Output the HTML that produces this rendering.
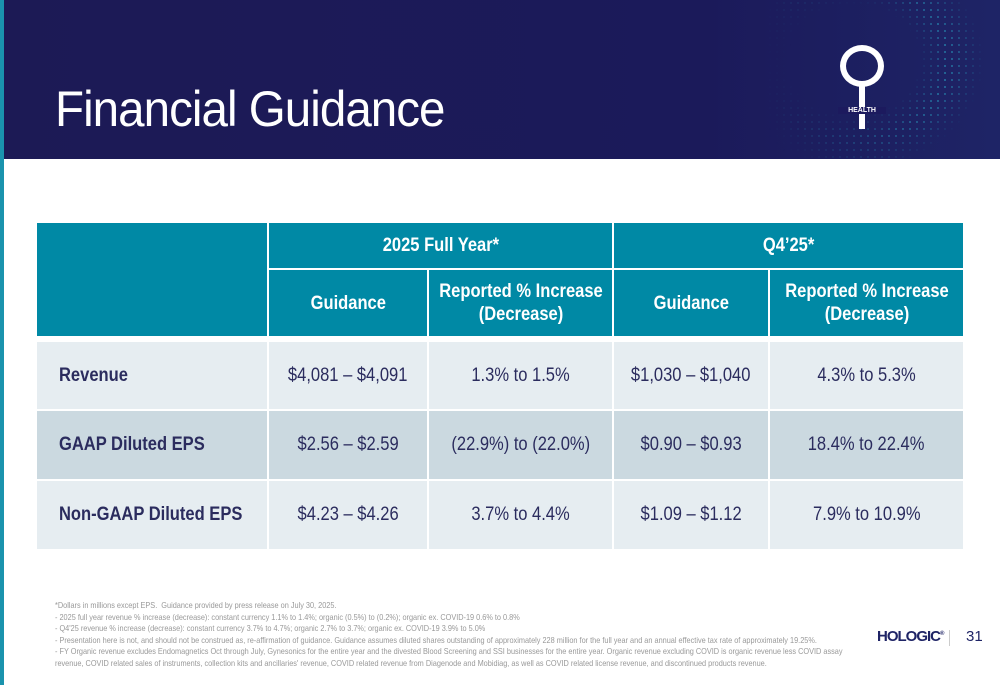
<!DOCTYPE html>
<html><head><meta charset="utf-8"><style>
*{margin:0;padding:0;box-sizing:border-box}
body{width:1000px;height:685px;position:relative;overflow:hidden;background:#fff;font-family:"Liberation Sans",Arial,sans-serif}
.c{position:absolute;display:flex;align-items:center;justify-content:center;text-align:center;white-space:nowrap}
.c span{display:inline-block;transform:scaleX(0.87)}
.h{background:#0089a5;color:#fff;font-weight:bold;font-size:19px;line-height:23px}
.d{color:#2b2c5e;font-size:19px}
.l{justify-content:flex-start;padding-left:22px;font-weight:bold}
.l span{transform-origin:left center}
.r1{background:#e6edf1}.r2{background:#cbd9e0}
.fn{position:absolute;left:55px;top:600px;font-size:8.4px;line-height:11.6px;color:#999;white-space:nowrap;transform:scaleX(0.875);transform-origin:left top}
</style></head><body>
<div style="position:absolute;left:0;top:0;width:4px;height:685px;background:#1a93ad"></div>
<div style="position:absolute;left:4px;top:0;width:996px;height:159px;background:linear-gradient(90deg,#1c1a55,#1b1a5a 70%,#1e2466);overflow:hidden">
<svg width="996" height="159" style="position:absolute;left:0;top:0">
<defs><pattern id="p" width="7" height="7" patternUnits="userSpaceOnUse"><circle cx="3" cy="3" r="1" fill="#2aa8c8"/></pattern>
<radialGradient id="g" cx="0.5" cy="0.5" r="0.5"><stop offset="0.5" stop-color="#000"/><stop offset="0.72" stop-color="#fff"/><stop offset="0.9" stop-color="#555"/><stop offset="1" stop-color="#000"/></radialGradient>
<linearGradient id="lg" x1="0" x2="1"><stop offset="0" stop-color="#000"/><stop offset="0.5" stop-color="#888"/><stop offset="1" stop-color="#fff"/></linearGradient>
<mask id="m"><ellipse cx="850" cy="60" rx="130" ry="110" fill="url(#g)"/></mask>
<mask id="m2"><rect x="760" y="0" width="236" height="159" fill="url(#lg)"/></mask></defs>
<g mask="url(#m2)"><rect x="700" y="0" width="296" height="159" fill="url(#p)" mask="url(#m)" opacity="0.85"/></g>
</svg>
<div style="position:absolute;left:51px;top:80px;color:#fff;font-size:50px;letter-spacing:-1px;white-space:nowrap;transform:scaleX(0.95);transform-origin:left top">Financial Guidance</div>
<div style="position:absolute;left:834px;top:45px;width:46px;height:84px">
<div style="position:absolute;left:2px;top:0;width:44px;height:42px;border:6px solid #fff;border-radius:50%"></div>
<div style="position:absolute;left:21px;top:40px;width:6px;height:44px;background:#fff"></div>
<div style="position:absolute;left:0;top:62px;width:48px;background:#1c1a5e;color:#fff;font-size:7px;font-weight:bold;text-align:center">HEALTH</div>
</div>
</div>

<div class="c h" style="left:37px;top:223px;width:230px;height:113px"></div>
<div class="c h" style="left:269px;top:223px;width:343px;height:45px"><span>2025 Full Year*</span></div>
<div class="c h" style="left:614px;top:223px;width:349px;height:45px"><span>Q4’25*</span></div>
<div class="c h" style="left:269px;top:270px;width:158px;height:66px"><span>Guidance</span></div>
<div class="c h" style="left:429px;top:270px;width:183px;height:66px"><span>Reported % Increase<br>(Decrease)</span></div>
<div class="c h" style="left:614px;top:270px;width:154px;height:66px"><span>Guidance</span></div>
<div class="c h" style="left:770px;top:270px;width:193px;height:66px"><span>Reported % Increase<br>(Decrease)</span></div>

<div class="c d l r1" style="left:37px;top:342px;width:230px;height:67px"><span>Revenue</span></div>
<div class="c d r1" style="left:269px;top:342px;width:158px;height:67px"><span>$4,081 – $4,091</span></div>
<div class="c d r1" style="left:429px;top:342px;width:183px;height:67px"><span>1.3% to 1.5%</span></div>
<div class="c d r1" style="left:614px;top:342px;width:154px;height:67px"><span>$1,030 – $1,040</span></div>
<div class="c d r1" style="left:770px;top:342px;width:193px;height:67px"><span>4.3% to 5.3%</span></div>

<div class="c d l r2" style="left:37px;top:411px;width:230px;height:68px"><span>GAAP Diluted EPS</span></div>
<div class="c d r2" style="left:269px;top:411px;width:158px;height:68px"><span>$2.56 – $2.59</span></div>
<div class="c d r2" style="left:429px;top:411px;width:183px;height:68px"><span>(22.9%) to (22.0%)</span></div>
<div class="c d r2" style="left:614px;top:411px;width:154px;height:68px"><span>$0.90 – $0.93</span></div>
<div class="c d r2" style="left:770px;top:411px;width:193px;height:68px"><span>18.4% to 22.4%</span></div>

<div class="c d l r1" style="left:37px;top:481px;width:230px;height:68px"><span>Non-GAAP Diluted EPS</span></div>
<div class="c d r1" style="left:269px;top:481px;width:158px;height:68px"><span>$4.23 – $4.26</span></div>
<div class="c d r1" style="left:429px;top:481px;width:183px;height:68px"><span>3.7% to 4.4%</span></div>
<div class="c d r1" style="left:614px;top:481px;width:154px;height:68px"><span>$1.09 – $1.12</span></div>
<div class="c d r1" style="left:770px;top:481px;width:193px;height:68px"><span>7.9% to 10.9%</span></div>

<div class="fn">*Dollars in millions except EPS.&nbsp; Guidance provided by press release on July 30, 2025.<br>
- 2025 full year revenue % increase (decrease): constant currency 1.1% to 1.4%; organic (0.5%) to (0.2%); organic ex. COVID-19 0.6% to 0.8%<br>
- Q4'25 revenue % increase (decrease): constant currency 3.7% to 4.7%; organic 2.7% to 3.7%; organic ex. COVID-19 3.9% to 5.0%<br>
- Presentation here is not, and should not be construed as, re-affirmation of guidance. Guidance assumes diluted shares outstanding of approximately 228 million for the full year and an annual effective tax rate of approximately 19.25%.<br>
- FY Organic revenue excludes Endomagnetics Oct through July, Gynesonics for the entire year and the divested Blood Screening and SSI businesses for the entire year. Organic revenue excluding COVID is organic revenue less COVID assay<br>
revenue, COVID related sales of instruments, collection kits and ancillaries' revenue, COVID related revenue from Diagenode and Mobidiag, as well as COVID related license revenue, and discontinued products revenue.</div>

<div style="position:absolute;left:877px;top:628px;color:#1f2466;font-weight:bold;font-size:15px;letter-spacing:-1px;white-space:nowrap">HOLOGIC<sup style="font-size:6px">®</sup></div>
<div style="position:absolute;left:949px;top:630px;width:1px;height:16px;background:#ccc"></div>
<div style="position:absolute;left:966px;top:628px;color:#1f2466;font-size:15px">31</div>
</body></html>
